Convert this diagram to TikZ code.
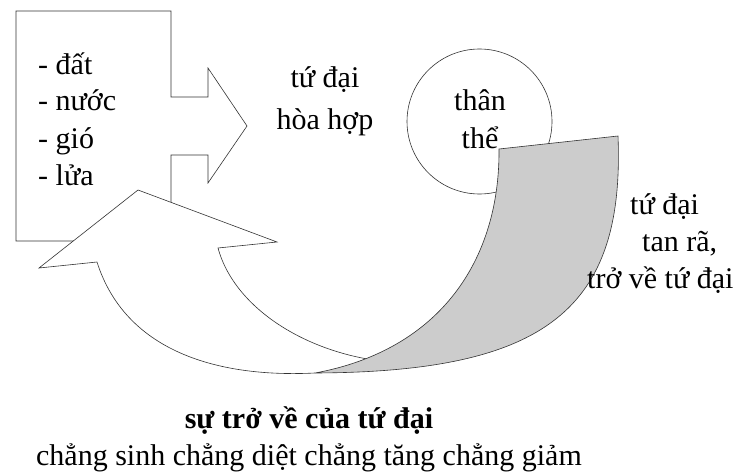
\documentclass[tikz,border=0pt]{standalone}
\usepackage{fontspec}
\setmainfont{Liberation Serif}
\usepackage{xcolor}
\usetikzlibrary{positioning}
\definecolor{shadegrey}{HTML}{CCCCCC}
\definecolor{inkline}{HTML}{333333}
\tikzset{
  shapeline/.style={draw=inkline,line width=0.6pt,line join=miter},
  lbl/.style={inner sep=0pt,font=\fontsize{30}{37}\selectfont},
}
\begin{document}
\begin{tikzpicture}[x=1pt,y=-1pt]
\useasboundingbox (0,0) rectangle (749,476);
% khoi tu dai voi mui ten sang phai
\draw[shapeline,fill=white] (16,11) -- (171,11) -- (171,97) -- (208,97) -- (208,68) -- (247,126)
  -- (208,183) -- (208,155) -- (171,155) -- (171,241) -- (16,241) -- cycle;
\node[lbl,anchor=base west,align=left] (elements) at (38,185) {- đất\\- nước\\- gió\\- lửa};
\node[lbl,anchor=base,align=center] (hoahop) at (325,130) {tứ đại\\[6pt]hòa hợp};
% than the
\node[circle,shapeline,fill=white,minimum size=145pt,inner sep=0pt] (body) at (479.5,121.5) {};
% mui ten cong quay ve
\filldraw[shapeline,fill=white] (390,362) .. controls (310,355) and (235,310) .. (218,248)
  -- (277,242) -- (138,190) -- (39,268) -- (97,262)
  .. controls (125,350) and (215,378) .. (315,373);
% mat sau mau xam
\draw[shapeline,fill=shadegrey] (499,149) -- (618,136) .. controls (625,310) and (545,372) .. (315,373)
  .. controls (440,350) and (500,260) .. (499,149) -- cycle;
\node[lbl,anchor=base,align=center] (bodytext) at (480,148) {thân\\thể};
\node[lbl,anchor=base west,align=left] (tanra) at (587,288)
  {\hspace*{43pt}tứ đại\\\hspace*{55pt}tan rã,\\trở về tứ đại};
% dong chu duoi
\node[lbl,anchor=base,align=center] (caption) at (309,465)
  {\bfseries sự trở về của tứ đại\\chẳng sinh chẳng diệt chẳng tăng chẳng giảm};
\end{tikzpicture}
\end{document}
